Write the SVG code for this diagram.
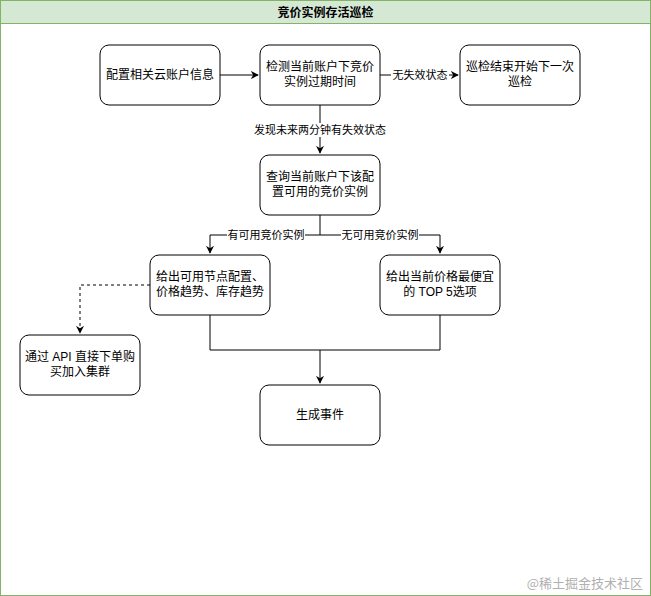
<svg xmlns="http://www.w3.org/2000/svg" width="651" height="596" viewBox="0 0 651 596">
<style>
.node{fill:#fff;stroke:#000;stroke-width:1}
.t{font-family:"Liberation Sans","Noto Sans CJK SC",sans-serif;font-size:12px;fill:#000;text-anchor:middle}
.lbl{font-family:"Liberation Sans","Noto Sans CJK SC",sans-serif;font-size:11px;fill:#000;text-anchor:middle}
.lblbg{fill:#fff}
.c{fill:none;stroke:#000;stroke-width:1}
.d{stroke-dasharray:3 3}
</style>
<defs>
<marker id="arr" viewBox="0 0 10 10" refX="9" refY="5" markerWidth="8" markerHeight="8" orient="auto" markerUnits="userSpaceOnUse">
<path d="M0,0 L10,5 L0,10 L3,5 Z" fill="#000"/>
</marker>
</defs>
<rect x="0.5" y="0.5" width="650" height="595" fill="#fff" stroke="#82b366"/>
<rect x="0.5" y="0.5" width="650" height="23" fill="#d5e8d4" stroke="#82b366"/>
<text x="325.5" y="16.5" class="t" font-weight="bold">竞价实例存活巡检</text>
<g id="connectors">
<path class="c" d="M220,75 H258" marker-end="url(#arr)"/>
<path class="c" d="M380,75 H458" marker-end="url(#arr)"/>
<rect class="lblbg" x="391" y="68" width="58" height="14"/>
<text class="lbl" x="420" y="79">无失效状态</text>
<path class="c" d="M320,105 V153" marker-end="url(#arr)"/>
<rect class="lblbg" x="254" y="123" width="132" height="14"/>
<text class="lbl" x="320" y="134">发现未来两分钟有失效状态</text>
<path class="c" d="M320,215 V235 H210 V253" marker-end="url(#arr)"/>
<path class="c" d="M320,235 H440 V253" marker-end="url(#arr)"/>
<rect class="lblbg" x="227" y="228" width="78" height="14"/>
<text class="lbl" x="266" y="239">有可用竞价实例</text>
<rect class="lblbg" x="341" y="228" width="78" height="14"/>
<text class="lbl" x="380" y="239">无可用竞价实例</text>
<path class="c d" d="M150,285 H80 V333" marker-end="url(#arr)"/>
<path class="c" d="M210,315 V350 H440 V315"/>
<path class="c" d="M320,350 V383" marker-end="url(#arr)"/>
</g>
<g id="n1"><rect class="node" x="100" y="45" width="120" height="60" rx="9"/><text class="t" x="160" y="79">配置相关云账户信息</text></g>
<g id="n2"><rect class="node" x="260" y="45" width="120" height="60" rx="9"/><text class="t" x="320" y="71">检测当前账户下竞价</text><text class="t" x="320" y="86">实例过期时间</text></g>
<g id="n3"><rect class="node" x="460" y="45" width="120" height="60" rx="9"/><text class="t" x="520" y="71">巡检结束开始下一次</text><text class="t" x="520" y="86">巡检</text></g>
<g id="n4"><rect class="node" x="260" y="155" width="120" height="60" rx="9"/><text class="t" x="320" y="181">查询当前账户下该配</text><text class="t" x="320" y="196">置可用的竞价实例</text></g>
<g id="n5"><rect class="node" x="150" y="255" width="120" height="60" rx="9"/><text class="t" x="210" y="281">给出可用节点配置、</text><text class="t" x="210" y="296">价格趋势、库存趋势</text></g>
<g id="n6"><rect class="node" x="380" y="255" width="120" height="60" rx="9"/><text class="t" x="440" y="281">给出当前价格最便宜</text><text class="t" x="440" y="296">的 TOP 5选项</text></g>
<g id="n7"><rect class="node" x="20" y="335" width="120" height="60" rx="9"/><text class="t" x="80" y="361">通过 API 直接下单购</text><text class="t" x="80" y="376">买加入集群</text></g>
<g id="n8"><rect class="node" x="260" y="385" width="120" height="60" rx="9"/><text class="t" x="320" y="419">生成事件</text></g>
<text x="643" y="588" font-family="'Noto Sans CJK SC',sans-serif" font-size="13" fill="#b0b0b0" text-anchor="end">@稀土掘金技术社区</text>
</svg>
